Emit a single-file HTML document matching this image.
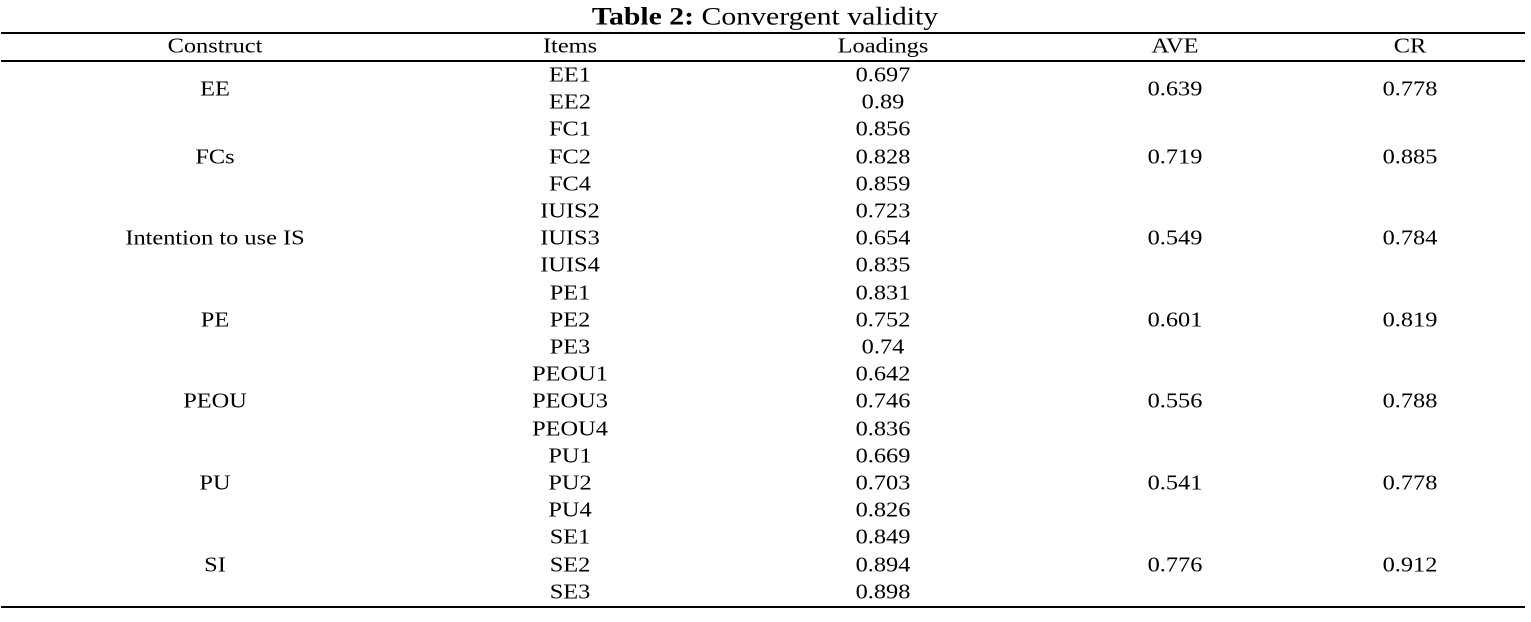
<!DOCTYPE html>
<html><head><meta charset="utf-8"><style>
body{margin:0;width:1531px;height:622px;background:#fff;position:relative;font-family:"Liberation Serif",serif;font-size:21px;color:#000;overflow:hidden}
.t{position:absolute;transform:translate(-50%,-50%) scaleX(1.16);white-space:nowrap;line-height:1}
.l{position:absolute;left:1px;width:1524px;height:2px;background:#000}
</style></head><body>
<div class="t" style="left:765px;top:17px;font-size:25px;transform:translate(-50%,-50%) scaleX(1.19)"><b>Table 2:</b> Convergent validity</div>
<div class="l" style="top:32px"></div>
<div class="l" style="top:60px"></div>
<div class="l" style="top:606px"></div>
<div id="tbl"></div>
<script>
const headers=["Construct","Items","Loadings","AVE","CR"];
const colX=[215,570,883,1175,1410];
const groups=[
["EE",[["EE1","0.697"],["EE2","0.89"]],"0.639","0.778"],
["FCs",[["FC1","0.856"],["FC2","0.828"],["FC4","0.859"]],"0.719","0.885"],
["Intention to use IS",[["IUIS2","0.723"],["IUIS3","0.654"],["IUIS4","0.835"]],"0.549","0.784"],
["PE",[["PE1","0.831"],["PE2","0.752"],["PE3","0.74"]],"0.601","0.819"],
["PEOU",[["PEOU1","0.642"],["PEOU3","0.746"],["PEOU4","0.836"]],"0.556","0.788"],
["PU",[["PU1","0.669"],["PU2","0.703"],["PU4","0.826"]],"0.541","0.778"],
["SI",[["SE1","0.849"],["SE2","0.894"],["SE3","0.898"]],"0.776","0.912"]];
const root=document.getElementById('tbl');
function cell(txt,x,y,name){const d=document.createElement('div');d.className='t';d.textContent=txt;d.style.left=x+'px';d.style.top=y+'px';


root.appendChild(d);}
headers.forEach((h,i)=>cell(h,colX[i],46,'header-'+h.toLowerCase()));
let r=0;const y0=75,dy=27.2;
groups.forEach(g=>{const n=g[1].length;const mid=y0+(r+(n-1)/2)*dy;
cell(g[0],colX[0],mid,'construct-cell');cell(g[2],colX[3],mid,'ave-cell');cell(g[3],colX[4],mid,'cr-cell');
g[1].forEach(it=>{const y=y0+r*dy;cell(it[0],colX[1],y,'item-cell');cell(it[1],colX[2],y,'loading-cell');r++;});});
</script>
</body></html>
